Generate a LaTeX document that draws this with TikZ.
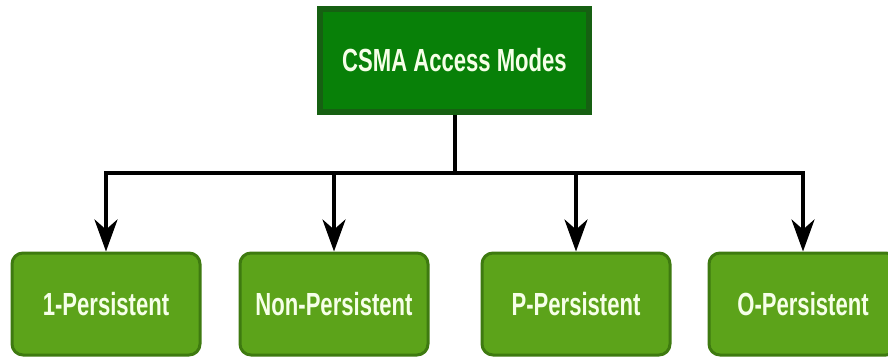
\documentclass[tikz,border=0pt]{standalone}
\usepackage{fontspec}
\setmainfont{Liberation Sans}[FakeStretch=0.69]
\usetikzlibrary{arrows.meta}
\definecolor{topfill}{RGB}{8,128,8}
\definecolor{topedge}{RGB}{22,96,18}
\definecolor{subfill}{RGB}{92,163,26}
\definecolor{subedge}{RGB}{62,122,16}
\definecolor{txt}{RGB}{246,255,232}
\tikzset{
  topbox/.style={draw=topedge, line width=4pt, fill=topfill, minimum width=271pt, minimum height=105pt, inner sep=0pt,
    font=\fontsize{32}{34}\selectfont\bfseries, text=txt},
  subbox/.style={draw=subedge, line width=3pt, fill=subfill, rounded corners=11pt, minimum width=188pt, minimum height=102pt, inner sep=0pt,
    font=\fontsize{32}{34}\selectfont\bfseries, text=txt},
  conn/.style={line width=4pt, black},
  arr/.style={conn, -{Stealth[length=32pt,width=23pt,inset=10pt]}}
}
\begin{document}
\begin{tikzpicture}[x=1pt,y=-1pt]
\useasboundingbox (0,0) rectangle (888,358);
\node[topbox] (top) at (454.5,60.5) {CSMA Access Modes};
\draw[topedge, line width=1.5pt] ([shift={(5pt,5pt)}]top.south west) rectangle ([shift={(-5pt,-5pt)}]top.north east);
\node[subbox] (a) at (106,304) {1-Persistent};
\node[subbox] (b) at (334,304) {Non-Persistent};
\node[subbox] (c) at (576,304) {P-Persistent};
\node[subbox] (d) at (803,304) {O-Persistent};
\coordinate (j) at (top.south |- 0,173);
\draw[conn] (top.south) -- (j);
\draw[conn, line cap=rect] (a.north |- j) -- (d.north |- j);
\draw[arr] (a.north |- j) -- (a.north);
\draw[arr] (b.north |- j) -- (b.north);
\draw[arr] (c.north |- j) -- (c.north);
\draw[arr] (d.north |- j) -- (d.north);
\end{tikzpicture}
\end{document}
